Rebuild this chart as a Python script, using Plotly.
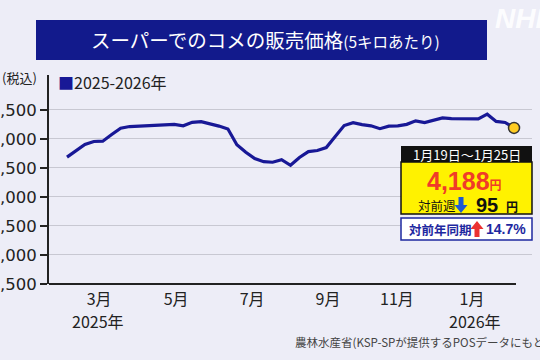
import plotly.graph_objects as go

# ---- data ----
week_index = list(range(51))
price = [3685, 3800, 3905, 3955, 3960, 4074, 4184, 4212, 4222, 4228,
         4234, 4240, 4250, 4224, 4285, 4296, 4265, 4220, 4170, 3900,
         3770, 3660, 3607, 3597, 3640, 3545, 3680, 3780, 3800, 3850,
         4040, 4230, 4280, 4245, 4225, 4175, 4220, 4225, 4250, 4310,
         4280, 4320, 4360, 4350, 4345, 4345, 4345, 4425, 4300, 4283, 4188]
month_tick_pos = [3.6, 12.2, 20.7, 29.2, 36.9, 45.3]
month_tick_text = ["3月", "5月", "7月", "9月", "11月", "1月"]
y_ticks = [1500, 2000, 2500, 3000, 3500, 4000, 4500]
latest_period = "1月19日～1月25日"
latest_price = "4,188"
week_change = "95"
yoy_change = "14.7%"

# ---- geometry helpers (pixel -> paper) ----
PL, PR, PT, PB = 49, 532, 75, 284
W, H = 540, 360
def X(p):
    return (p - PL) / (PR - PL)
def Y(p):
    return (PB - p) / (PB - PT)

NAVY = "rgb(24,24,150)"
BG = "rgb(237,237,247)"
FONT = "Liberation Sans, Arial, Noto Sans CJK JP"
JP = "Noto Sans CJK JP, Liberation Sans"

fig = go.Figure()
fig.add_trace(go.Scatter(x=week_index, y=price, mode="lines",
                         line=dict(color=NAVY, width=3.2), showlegend=False,
                         hoverinfo="skip"))
fig.add_trace(go.Scatter(x=[week_index[-1]], y=[price[-1]], mode="markers",
                         marker=dict(size=11, color="#FFCC22",
                                     line=dict(color="#333333", width=1.5)),
                         showlegend=False, hoverinfo="skip"))

shapes = []
ann = []

# title bar
shapes.append(dict(type="rect", xref="paper", yref="paper",
                   x0=X(36), x1=X(487), y0=Y(60), y1=Y(20),
                   fillcolor="rgb(18,26,140)", line=dict(width=0), layer="below"))
ann.append(dict(xref="paper", yref="paper", x=X(265), y=Y(40), xanchor="center",
                yanchor="middle", showarrow=False,
                text="スーパーでのコメの販売価格<span style='font-size:15.5px'>(5キロあたり)</span>",
                font=dict(family=JP, size=19.5, color="white")))
# NHK watermark
ann.append(dict(xref="paper", yref="paper", x=X(493), y=Y(18), xanchor="left",
                yanchor="middle", showarrow=False, text="<b><i>NHK</i></b>",
                font=dict(family=FONT, size=28, color="rgba(255,255,255,0.9)")))
# (税込)
ann.append(dict(xref="paper", yref="paper", x=X(0), y=Y(78), xanchor="left",
                yanchor="middle", showarrow=False, text="(税込)",
                font=dict(family=JP, size=13, color="#222222")))
# legend
ann.append(dict(xref="paper", yref="paper", x=X(56), y=Y(82), xanchor="left",
                yanchor="middle", showarrow=False,
                text=f"<span style='color:{NAVY}'>■</span>2025-2026年",
                font=dict(family=JP, size=16, color="#222222")))
# years
for xp, t in [(98, "2025年"), (475, "2026年")]:
    ann.append(dict(xref="paper", yref="paper", x=X(xp), y=Y(321), xanchor="center",
                    yanchor="middle", showarrow=False, text=t,
                    font=dict(family=JP, size=16, color="#222222")))
# source
ann.append(dict(xref="paper", yref="paper", x=X(293), y=Y(342), xanchor="left",
                yanchor="middle", showarrow=False,
                text="農林水産省(KSP-SPが提供するPOSデータにもとづく)",
                font=dict(family=JP, size=11.5, color="#444444")))

# x-axis baseline
shapes.append(dict(type="line", xref="paper", yref="paper", x0=X(49), x1=X(516),
                   y0=0, y1=0, line=dict(color="#222222", width=2)))

# info box
shapes.append(dict(type="rect", xref="paper", yref="paper", x0=X(401), x1=X(532),
                   y0=Y(162), y1=Y(146), fillcolor="#111111", line=dict(width=0)))
shapes.append(dict(type="rect", xref="paper", yref="paper", x0=X(401), x1=X(532),
                   y0=Y(214), y1=Y(162), fillcolor="#FFF200",
                   line=dict(color="#111111", width=1.5)))
shapes.append(dict(type="rect", xref="paper", yref="paper", x0=X(401), x1=X(532),
                   y0=Y(240), y1=Y(218), fillcolor="white",
                   line=dict(color="rgb(30,40,160)", width=1.5)))
ann.append(dict(xref="paper", yref="paper", x=X(466.5), y=Y(154), xanchor="center",
                yanchor="middle", showarrow=False, text=latest_period,
                font=dict(family=JP, size=13, color="white")))
ann.append(dict(xref="paper", yref="paper", x=X(464), y=Y(181), xanchor="center",
                yanchor="middle", showarrow=False,
                text=f"<b>{latest_price}</b><span style='font-size:12px'><b>円</b></span>",
                font=dict(family=FONT, size=25, color="rgb(240,60,40)")))
ann.append(dict(xref="paper", yref="paper", x=X(416), y=Y(205), xanchor="left",
                yanchor="middle", showarrow=False, text="対前週",
                font=dict(family=JP, size=12.5, color="#111111")))
ann.append(dict(xref="paper", yref="paper", x=X(474), y=Y(205), xanchor="left",
                yanchor="middle", showarrow=False, text=f"<b>{week_change}</b>",
                font=dict(family=FONT, size=20, color="#111111")))
ann.append(dict(xref="paper", yref="paper", x=X(512), y=Y(206), xanchor="center",
                yanchor="middle", showarrow=False, text="<b>円</b>",
                font=dict(family=JP, size=12, color="#111111")))
ann.append(dict(xref="paper", yref="paper", x=X(407), y=Y(229), xanchor="left",
                yanchor="middle", showarrow=False, text="<b>対前年同期</b>",
                font=dict(family=JP, size=12.5, color="rgb(30,40,160)")))
ann.append(dict(xref="paper", yref="paper", x=X(484), y=Y(229), xanchor="left",
                yanchor="middle", showarrow=False, text=f"<b>{yoy_change}</b>",
                font=dict(family=FONT, size=14, color="rgb(30,40,160)")))

def poly(pts):
    return "M " + " L ".join(f"{X(a):.5f},{Y(b):.5f}" for a, b in pts) + " Z"
# down arrow (blue)
shapes.append(dict(type="path", xref="paper", yref="paper",
                   path=poly([(458.5, 197), (463.5, 197), (463.5, 205), (467.5, 205),
                              (461, 213), (454.5, 205), (458.5, 205)]),
                   fillcolor="rgb(30,90,210)", line=dict(width=0)))
# up arrow (red)
shapes.append(dict(type="path", xref="paper", yref="paper",
                   path=poly([(477, 221), (483.5, 229), (479.5, 229), (479.5, 237),
                              (474.5, 237), (474.5, 229), (470.5, 229)]),
                   fillcolor="rgb(235,50,50)", line=dict(width=0)))

fig.update_layout(
    width=W, height=H,
    margin=dict(l=PL, r=W - PR, t=PT, b=H - PB, pad=0, autoexpand=False),
    paper_bgcolor=BG, plot_bgcolor=BG,
    shapes=shapes, annotations=ann,
    showlegend=False,
    xaxis=dict(range=[-2.013, 52.01], tickmode="array", tickvals=month_tick_pos,
               ticktext=month_tick_text, showgrid=False, zeroline=False,
               showline=False, ticks="", ticklabelstandoff=4, automargin=False,
               tickfont=dict(family=JP, size=16, color="#222222"), fixedrange=True),
    yaxis=dict(range=[1500, 5100], tickmode="array", tickvals=y_ticks,
               tickformat=",d", showgrid=True, gridcolor="rgb(200,200,210)",
               gridwidth=1, zeroline=False, showline=True, linecolor="#222222",
               linewidth=2, ticks="outside", ticklen=7, tickwidth=1.5,
               tickcolor="#222222", automargin=False,
               tickfont=dict(family="DejaVu Sans", size=16.5, color="#222222"),
               fixedrange=True),
)

fig.write_html("out.html", config={"displayModeBar": False},
               post_script="document.body.style.margin='0';document.body.style.background='rgb(237,237,247)';")
